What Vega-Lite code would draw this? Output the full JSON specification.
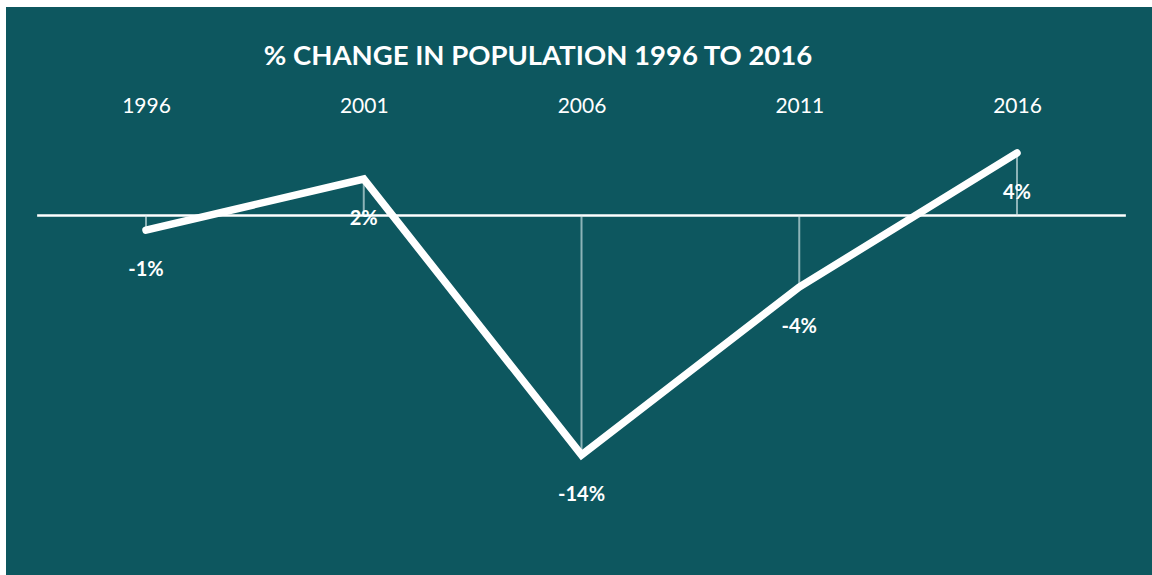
{
  "$schema": "https://vega.github.io/schema/vega-lite/v6.json",
  "width": 1146,
  "height": 568,
  "autosize": {"type": "none"},
  "padding": {"left": 6, "top": 7, "right": 0, "bottom": 0},
  "background": "white",
  "config": {
    "view": {"fill": "#0D575F", "stroke": null},
    "font": "Lato",
    "axis": {"grid": false}
  },
  "title": {
    "text": "% CHANGE IN POPULATION 1996 TO 2016",
    "color": "white",
    "fontSize": 27.5,
    "fontWeight": "bold",
    "font": "Lato",
    "anchor": "middle",
    "frame": "group",
    "orient": "top",
    "offset": 0,
    "baseline": "middle",
    "dy": 77,
    "dx": -41
  },
  "datasets": {
    "change": [
      {"year": 1996, "value": -0.85, "label": "-1%"},
      {"year": 2001, "value": 2.12, "label": "2%"},
      {"year": 2006, "value": -13.92, "label": "-14%"},
      {"year": 2011, "value": -4.16, "label": "-4%"},
      {"year": 2016, "value": 3.63, "label": "4%"}
    ],
    "baseline": [
      {"year": 1993.5, "year_end": 2018.5, "zero": 0}
    ]
  },
  "layer": [
    {
      "data": {"name": "baseline"},
      "mark": {"type": "rule", "color": "white", "strokeWidth": 2.5},
      "encoding": {
        "x": {"field": "year", "type": "quantitative", "scale": {"domain": [1992.785, 2019.1], "nice": false, "zero": false}, "axis": {"orient": "top", "values": [1996, 2001, 2006, 2011, 2016], "format": "d", "domain": false, "ticks": false, "tickSize": 0, "labelColor": "white", "labelFontSize": 21, "labelFont": "Lato", "labelPadding": 0, "offset": -99, "title": null, "labelBaseline": "middle"}},
        "x2": {"field": "year_end"},
        "y": {"field": "zero", "type": "quantitative", "scale": {"domain": [-20.9, 12.12], "nice": false, "zero": false}, "axis": null}
      }
    },
    {
      "data": {"name": "change"},
      "mark": {"type": "rule", "color": "#d3e6e8", "strokeWidth": 2, "opacity": 0.65},
      "encoding": {
        "x": {"field": "year", "type": "quantitative", "title": null},
        "y": {"field": "value", "type": "quantitative", "title": null},
        "y2": {"datum": 0}
      }
    },
    {
      "data": {"name": "change"},
      "mark": {"type": "line", "color": "white", "strokeWidth": 7.5, "strokeCap": "round", "strokeJoin": "miter"},
      "encoding": {
        "x": {"field": "year", "type": "quantitative", "title": null},
        "y": {"field": "value", "type": "quantitative", "title": null}
      }
    },
    {
      "data": {"name": "change"},
      "mark": {"type": "text", "color": "white", "fontSize": 20, "fontWeight": "bold", "font": "Lato", "baseline": "middle", "align": "center", "dy": 40},
      "encoding": {
        "x": {"field": "year", "type": "quantitative", "title": null},
        "y": {"field": "value", "type": "quantitative", "title": null},
        "text": {"field": "label"}
      }
    }
  ]
}
